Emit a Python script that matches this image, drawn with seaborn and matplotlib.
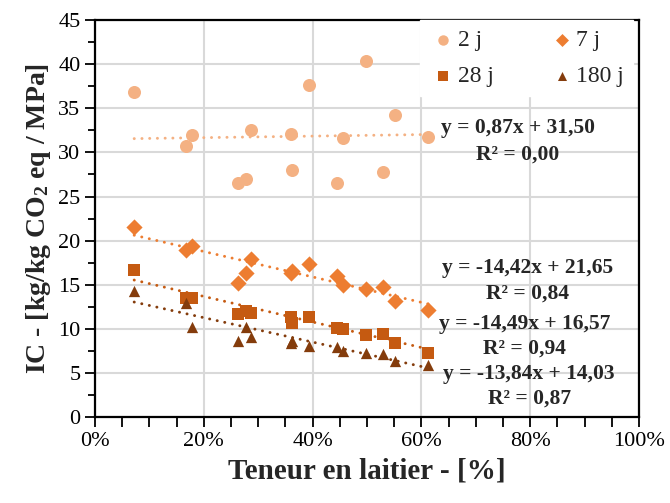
import numpy as np
import matplotlib
matplotlib.use("Agg")
import matplotlib.pyplot as plt
import seaborn as sns
from matplotlib.ticker import PercentFormatter, MultipleLocator

# Teneur en laitier (fraction) des 15 mélanges
laitier = [0.072, 0.167, 0.179, 0.262, 0.277, 0.287, 0.360, 0.362,
           0.393, 0.444, 0.455, 0.499, 0.529, 0.551, 0.612]

# IC [kg/kg CO2 eq / MPa] par échéance
ic_2j = [36.8, 30.7, 32.0, 26.5, 27.0, 32.5, 32.1, 27.95,
         37.6, 26.5, 31.6, 40.4, 27.8, 34.2, 31.8]
ic_7j = [21.55, 18.9, 19.4, 15.2, 16.3, 17.9, 16.3, 16.6,
         17.3, 15.96, 15.0, 14.5, 14.75, 13.1, 12.1]
ic_28j = [16.7, 13.5, 13.5, 11.7, 12.0, 11.8, 11.35, 10.7,
          11.35, 10.1, 9.95, 9.3, 9.4, 8.4, 7.3]
ic_180j = [14.26, 12.9, 10.2, 8.6, 10.2, 9.1, 8.4, 8.6,
           8.05, 7.94, 7.5, 7.2, 7.1, 6.4, 5.87]

ages = ["2 j", "7 j", "28 j", "180 j"]
pentes = [0.87, -14.42, -14.49, -13.84]
ordonnees = [31.50, 21.65, 16.57, 14.03]
r2 = ["0,00", "0,84", "0,94", "0,87"]

couleurs = ["#F4B183", "#ED7D31", "#C55A11", "#843C0C"]
marqueurs = ["o", "D", "s", "^"]
tailles = [88, 68, 78, 66]

sns.set_style("white")
plt.rcParams["font.family"] = ["Liberation Serif", "DejaVu Serif"]
plt.rcParams["mathtext.fontset"] = "custom"
plt.rcParams["mathtext.bf"] = "Liberation Serif:bold"
plt.rcParams["mathtext.rm"] = "Liberation Serif"
plt.rcParams["mathtext.default"] = "bf"

fig = plt.figure(figsize=(6.7, 5.03), dpi=100)
ax = fig.add_axes([0.1418, 0.171, 0.8119, 0.789])

series = [ic_2j, ic_7j, ic_28j, ic_180j]
x = np.array(laitier)
for vals, lab, c, m, s, a, b in zip(series, ages, couleurs, marqueurs, tailles, pentes, ordonnees):
    sns.scatterplot(x=laitier, y=vals, marker=m, color=c, s=s, linewidth=0,
                    label=lab, ax=ax, zorder=3)
    xs = np.array([x.min(), x.max()])
    # courbe de tendance en pointillés ronds
    ax.plot(xs, a * xs + b, linestyle=(0, (0.05, 2.6)), color=c, lw=2.1,
            dash_capstyle="round", zorder=2)

# équations des courbes de tendance
pos_eq = [(0.777, 32.75, 29.7), (0.795, 16.9, 14.0), (0.790, 10.6, 7.8), (0.798, 4.84, 2.1)]
for (px, py1, py2), a, b, r in zip(pos_eq, pentes, ordonnees, r2):
    eq = "y = {}x + {}".format(f"{a:.2f}".replace(".", ","), f"{b:.2f}".replace(".", ","))
    ax.text(px, py1, eq, ha="center", va="center", fontsize=15.5, fontweight="bold", zorder=5)
    ax.text(px, py2, "R² = " + r, ha="center", va="center", fontsize=15.5, fontweight="bold", zorder=5)

ax.set_xlim(0, 1)
ax.set_ylim(0, 45)
ax.xaxis.set_major_locator(MultipleLocator(0.2))
ax.xaxis.set_minor_locator(MultipleLocator(0.05))
ax.yaxis.set_major_locator(MultipleLocator(5))
ax.yaxis.set_minor_locator(MultipleLocator(2.5))
ax.xaxis.set_major_formatter(PercentFormatter(xmax=1, decimals=0))
ax.grid(True, which="major", color="#D9D9D9", lw=1.5, zorder=0)
ax.set_axisbelow(True)
ax.tick_params(axis="both", which="both", direction="out", colors="black",
               labelsize=16, width=1.3)
ax.tick_params(axis="both", which="major", length=7, bottom=True, left=True)
ax.tick_params(axis="y", which="minor", length=5, left=True)
ax.tick_params(axis="x", which="minor", length=7, bottom=True)
for sp in ax.spines.values():
    sp.set_color("black")
    sp.set_linewidth(1.6)

ax.set_xlabel("Teneur en laitier - [%]", fontsize=21, fontweight="bold", labelpad=5)
ax.set_ylabel(r"IC - [kg/kg CO$_2$ eq / MPa]", fontsize=20, fontweight="bold", labelpad=4)

h, l = ax.get_legend_handles_labels()
ordre = [0, 2, 1, 3]
leg = ax.legend([h[i] for i in ordre], [l[i] for i in ordre], ncol=2, loc="upper left",
                bbox_to_anchor=(0.597, 1.0), borderaxespad=0, borderpad=0.4, fontsize=17,
                frameon=True, facecolor="white", edgecolor="white", framealpha=1,
                handletextpad=0.0, columnspacing=2.3, labelspacing=0.6,
                handlelength=1.2, markerscale=0.8, fancybox=False)
leg.set_zorder(4)

fig.savefig("out.png", dpi=100)
